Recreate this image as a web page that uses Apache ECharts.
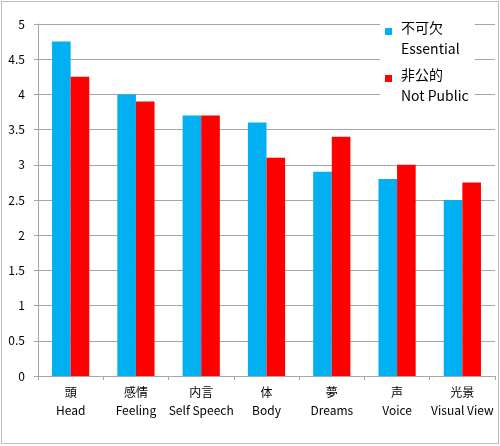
<!DOCTYPE html>
<html>
<head>
<meta charset="utf-8">
<script src="https://cdn.jsdelivr.net/npm/echarts@6/dist/echarts.min.js"></script>
<style>
html,body{margin:0;padding:0;background:#fff;}
#frame{position:absolute;left:1px;top:1px;width:496px;height:441px;border:1px solid #bcbcbc;}
#chart{position:absolute;left:0;top:0;width:500px;height:446px;}
</style>
</head>
<body>
<div id="frame"></div>
<div id="chart"></div>
<script>
const categories = ['頭\nHead', '感情\nFeeling', '内言\nSelf Speech', '体\nBody', '夢\nDreams', '声\nVoice', '光景\nVisual View'];
const essential = [4.75, 4.0, 3.7, 3.6, 2.9, 2.8, 2.5];
const notPublic = [4.25, 3.9, 3.7, 3.1, 3.4, 3.0, 2.75];
const seriesNames = ['不可欠\nEssential', '非公的\nNot Public'];

const FONT = '"Noto Sans CJK JP", "Noto Sans", sans-serif';
const chart = echarts.init(document.getElementById('chart'), null, {renderer: 'canvas'});
chart.setOption({
  animation: false,
  backgroundColor: 'transparent',
  textStyle: {fontFamily: FONT},
  grid: {left: 38, right: 5, top: 24, bottom: 70, containLabel: false},
  legend: {
    left: 380, top: 12,
    orient: 'vertical',
    backgroundColor: '#ffffff',
    padding: [5, 6, 8, 5],
    itemGap: 5,
    itemWidth: 7, itemHeight: 20,
    icon: 'path://M0,0H7V7H0Z M0,20H7',
    itemStyle: {borderWidth: 0},
    textStyle: {fontFamily: FONT, fontSize: 14, color: '#000', lineHeight: 21, padding: [0, 0, 0, 4]},
    data: seriesNames
  },
  xAxis: {
    type: 'category',
    data: categories,
    axisLine: {lineStyle: {color: '#a6a6a6', width: 1}},
    axisTick: {show: true, length: 4, lineStyle: {color: '#a6a6a6'}},
    axisLabel: {fontFamily: FONT, fontSize: 12, color: '#000', lineHeight: 18, margin: 7, interval: 0}
  },
  yAxis: {
    type: 'value',
    min: 0, max: 5, interval: 0.5,
    axisLine: {show: true, lineStyle: {color: '#a6a6a6', width: 1}},
    axisTick: {show: true, length: 4, lineStyle: {color: '#a6a6a6'}},
    splitLine: {lineStyle: {color: '#a6a6a6', width: 1}},
    axisLabel: {fontFamily: FONT, fontSize: 12, color: '#000', margin: 13}
  },
  series: [
    {name: seriesNames[0], type: 'bar', data: essential, barGap: '0%', barCategoryGap: '43%', itemStyle: {color: '#00B0F0'}},
    {name: seriesNames[1], type: 'bar', data: notPublic, barGap: '0%', barCategoryGap: '43%', itemStyle: {color: '#FF0000'}}
  ]
});
</script>
</body>
</html>
